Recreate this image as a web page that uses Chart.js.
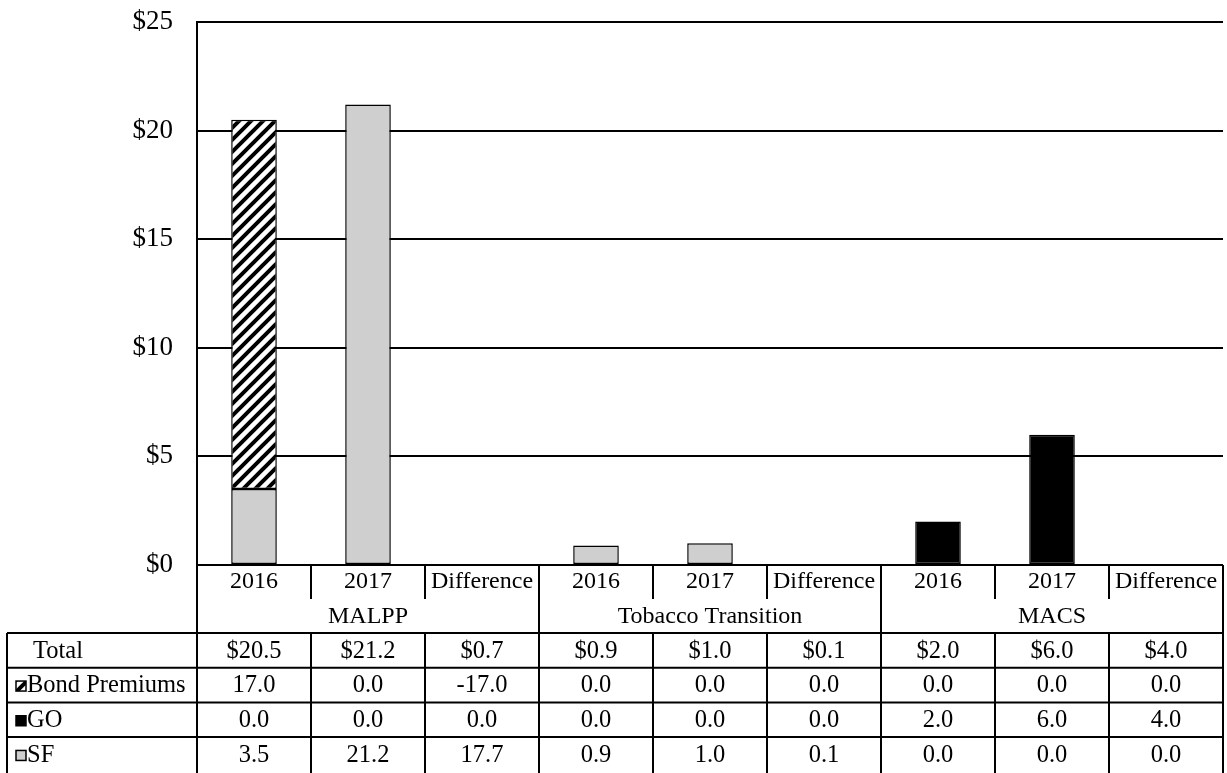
<!DOCTYPE html>
<html>
<head>
<meta charset="utf-8">
<script src="https://cdn.jsdelivr.net/npm/chart.js@4"></script>
<style>
  body { margin: 0; background: #fff; }
  #wrap { width: 1227px; height: 773px; position: relative; }
</style>
</head>
<body>
<div id="wrap"><canvas id="funding"></canvas></div>
<script>
const categories = ['2016', '2017', 'Difference', '2016', '2017', 'Difference', '2016', '2017', 'Difference'];
const groups = ['MALPP', 'Tobacco Transition', 'MACS'];
const total = [20.5, 21.2, 0.7, 0.9, 1.0, 0.1, 2.0, 6.0, 4.0];
const bondPremiums = [17.0, 0.0, -17.0, 0.0, 0.0, 0.0, 0.0, 0.0, 0.0];
const go = [0.0, 0.0, 0.0, 0.0, 0.0, 0.0, 2.0, 6.0, 4.0];
const sf = [3.5, 21.2, 17.7, 0.9, 1.0, 0.1, 0.0, 0.0, 0.0];

const FONT = 'Liberation Serif';
const GRAY = '#d0cfd0';

// difference columns are only shown in the table
const plotted = arr => arr.map((v, i) => (categories[i] === 'Difference' || v === 0) ? null : v);

function hatch() {
  const c = document.createElement('canvas');
  c.width = 12; c.height = 12;
  const g = c.getContext('2d');
  g.fillStyle = '#fff';
  g.fillRect(0, 0, 12, 12);
  g.strokeStyle = '#000';
  g.lineWidth = 4;
  g.beginPath();
  g.moveTo(-3, 15); g.lineTo(15, -3);
  g.moveTo(-3, 3); g.lineTo(3, -3);
  g.moveTo(9, 15); g.lineTo(15, 9);
  g.stroke();
  return g.createPattern(c, 'repeat');
}
const stripes = hatch();

const tableRows = [
  { label: 'Total', values: total, fmt: v => '$' + v.toFixed(1), key: null },
  { label: 'Bond Premiums', values: bondPremiums, fmt: v => v.toFixed(1), key: stripes },
  { label: 'GO', values: go, fmt: v => v.toFixed(1), key: '#000' },
  { label: 'SF', values: sf, fmt: v => v.toFixed(1), key: GRAY }
];

const dataTable = {
  id: 'dataTable',
  afterDraw(chart) {
    const ctx = chart.ctx;
    const area = chart.chartArea;
    const xs = chart.scales.x;
    const L = area.left, R = area.right, y0 = area.bottom;
    const colW = (R - L) / categories.length;
    const catBottom = y0 + 34;
    const tableTop = y0 + 68;
    const rowH = 34.7;
    const bottom = tableTop + rowH * tableRows.length + 2;
    const leftEdge = 7;

    ctx.save();
    ctx.strokeStyle = '#000';
    ctx.lineWidth = 2;
    ctx.beginPath();
    // outer verticals of the category block
    ctx.moveTo(L, area.top); ctx.lineTo(L, bottom);
    ctx.moveTo(R, y0); ctx.lineTo(R, bottom);
    for (let i = 1; i < categories.length; i++) {
      const x = L + colW * i;
      if (i % 3 === 0) {
        ctx.moveTo(x, y0); ctx.lineTo(x, bottom);
      } else {
        ctx.moveTo(x, y0); ctx.lineTo(x, catBottom);
        ctx.moveTo(x, tableTop); ctx.lineTo(x, bottom);
      }
    }
    // table horizontals
    for (let r = 0; r < tableRows.length; r++) {
      const y = tableTop + rowH * r;
      ctx.moveTo(leftEdge, y); ctx.lineTo(R, y);
    }
    ctx.moveTo(leftEdge, tableTop); ctx.lineTo(leftEdge, bottom);
    ctx.stroke();

    ctx.fillStyle = '#000';
    ctx.font = '24px "' + FONT + '"';
    ctx.textAlign = 'center';
    ctx.textBaseline = 'middle';
    categories.forEach((c, i) => ctx.fillText(c, xs.getPixelForValue(i), y0 + 17));
    groups.forEach((g, k) => {
      const x = (xs.getPixelForValue(k * 3) + xs.getPixelForValue(k * 3 + 2)) / 2;
      ctx.fillText(g, x, y0 + 52);
    });

    ctx.font = '24.5px "' + FONT + '"';
    tableRows.forEach((row, r) => {
      const cy = tableTop + rowH * r + rowH / 2 + 1;
      ctx.textAlign = 'center';
      row.values.forEach((v, i) => ctx.fillText(row.fmt(v), xs.getPixelForValue(i), cy));
      ctx.textAlign = 'left';
      if (row.key) {
        ctx.fillStyle = row.key;
        ctx.fillRect(16, cy - 5, 10, 10);
        ctx.lineWidth = 1.5;
        ctx.strokeRect(16, cy - 5, 10, 10);
        ctx.fillStyle = '#000';
        ctx.fillText(row.label, 27, cy);
      } else {
        ctx.fillText(row.label, 33, cy);
      }
    });
    ctx.restore();
  }
};

new Chart(document.getElementById('funding'), {
  type: 'bar',
  data: {
    labels: categories,
    datasets: [
      { label: 'SF', data: plotted(sf), backgroundColor: GRAY, borderColor: '#000', borderWidth: 1.5, borderSkipped: false },
      { label: 'GO', data: plotted(go), backgroundColor: '#000', borderColor: '#000', borderWidth: 1.5, borderSkipped: false },
      { label: 'Bond Premiums', data: plotted(bondPremiums), backgroundColor: stripes, borderColor: '#000', borderWidth: 1.5, borderSkipped: false }
    ]
  },
  options: {
    responsive: true,
    maintainAspectRatio: false,
    animation: false,
    layout: { padding: { top: 22, right: 4, bottom: 208, left: 0 } },
    datasets: { bar: { categoryPercentage: 0.8, barPercentage: 0.5 } },
    plugins: {
      legend: { display: false },
      tooltip: { enabled: false }
    },
    scales: {
      x: {
        stacked: true,
        display: false
      },
      y: {
        stacked: true,
        min: 0,
        max: 25,
        afterFit(scale) {
          scale.width = 197;
          scale.paddingTop = 0;
          scale.paddingBottom = 0;
        },
        border: { display: true, color: '#000', width: 2 },
        grid: { color: '#000', lineWidth: 2, drawTicks: false },
        ticks: {
          stepSize: 5,
          padding: 24,
          color: '#000',
          font: { family: FONT, size: 27 },
          callback: v => '$' + v
        }
      }
    }
  },
  plugins: [dataTable]
});
</script>
</body>
</html>
